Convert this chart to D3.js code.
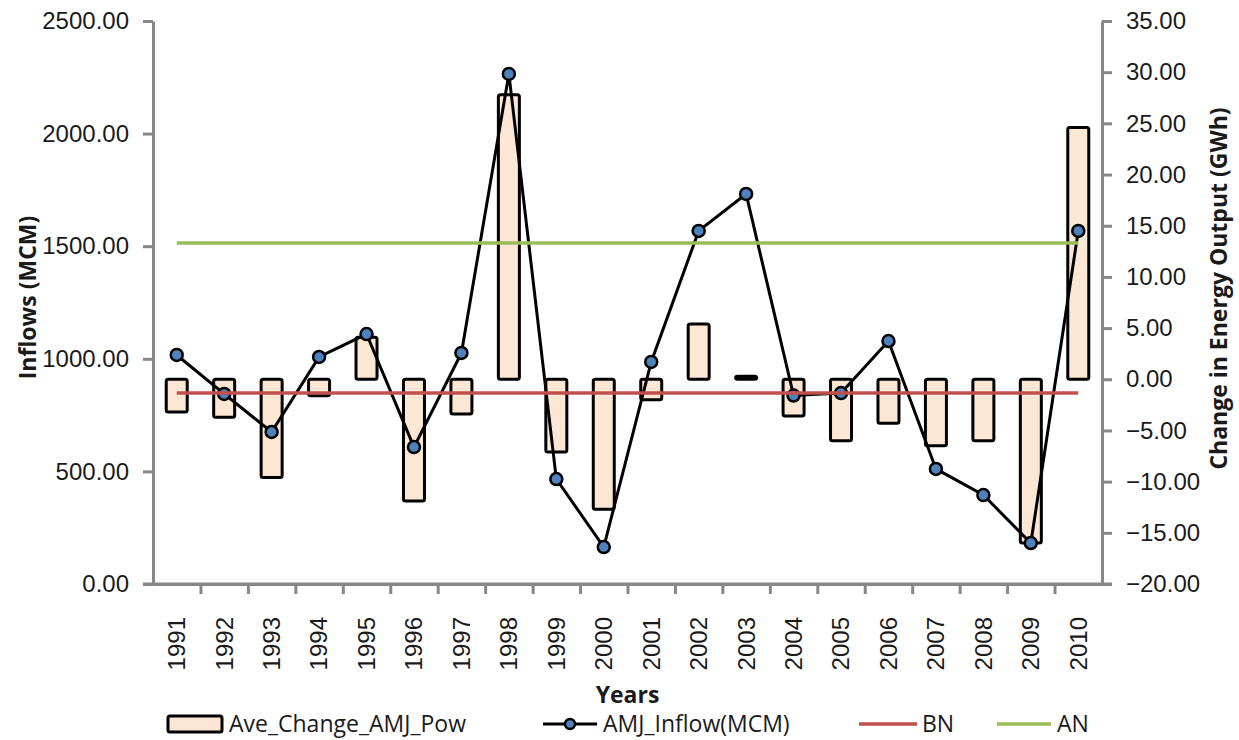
<!DOCTYPE html>
<html>
<head>
<meta charset="utf-8">
<script src="https://cdn.jsdelivr.net/npm/d3@7"></script>
<style>
  body { margin: 0; background: #fff; }
  svg { font-family: "Open Sans", sans-serif; }
  .axis path, .axis line { stroke: #878787; stroke-width: 3; }
  .axis text { fill: #1a1a1a; font-size: 24px; }
</style>
</head>
<body>
<svg id="chart" width="1239" height="740"></svg>
<script>
// Data
const years = ["1991","1992","1993","1994","1995","1996","1997","1998","1999","2000",
               "2001","2002","2003","2004","2005","2006","2007","2008","2009","2010"];
// Ave_Change_AMJ_Pow (GWh, right axis)
const powerChange = [-3.2, -3.7, -9.6, -1.6, 4.1, -11.9, -3.4, 27.8, -7.1, -12.7,
                     -2.0, 5.4, 0.3, -3.6, -6.0, -4.3, -6.5, -6.0, -16.0, 24.6];
// AMJ_Inflow(MCM) (left axis)
const inflow = [1017, 844, 675, 1008, 1110, 608, 1026, 2265, 466, 164,
                986, 1568, 1732, 837, 848, 1079, 511, 395, 182, 1568];
const bnLevel = 848;
const anLevel = 1514;
const leftTicks = [0, 500, 1000, 1500, 2000, 2500];
const rightTicks = [-20, -15, -10, -5, 0, 5, 10, 15, 20, 25, 30, 35];

const margin = {top: 21, right: 137, bottom: 156, left: 153};
const svg = d3.select('#chart');
const width = +svg.attr('width') - margin.left - margin.right;
const height = +svg.attr('height') - margin.top - margin.bottom;
const g = svg.append('g').attr('transform', `translate(${margin.left},${margin.top})`);

// Scales
const x = d3.scaleBand().domain(years).range([0, width]);
const xEdge = d3.scaleLinear().domain([0, years.length]).range([0, width]);
const yLeft = d3.scaleLinear().domain([0, 2500]).range([height, 0]);
const yRight = d3.scaleLinear().domain([-20, 35]).range([height, 0]);
const cx = d => x(d) + x.bandwidth() / 2;

// Bars (right axis)
const barW = 21;
g.selectAll('rect.bar')
  .data(years.map((d, i) => ({year: d, v: powerChange[i]})))
  .enter().append('rect')
  .attr('class', 'bar')
  .attr('x', d => cx(d.year) - barW / 2)
  .attr('y', d => yRight(Math.max(0, d.v)))
  .attr('width', barW)
  .attr('height', d => Math.abs(yRight(d.v) - yRight(0)))
  .attr('rx', 2)
  .style('fill', '#fce7d4')
  .style('stroke', '#000')
  .style('stroke-width', 3);

// Inflow line
const line = d3.line()
  .x((d, i) => cx(years[i]))
  .y(d => yLeft(d));
g.append('path')
  .datum(inflow)
  .attr('d', line)
  .style('fill', 'none')
  .style('stroke', '#000')
  .style('stroke-width', 3);
g.selectAll('circle.pt')
  .data(inflow)
  .enter().append('circle')
  .attr('class', 'pt')
  .attr('cx', (d, i) => cx(years[i]))
  .attr('cy', d => yLeft(d))
  .attr('r', 6)
  .style('fill', '#4f81bd')
  .style('stroke', '#000')
  .style('stroke-width', 2.5);

// BN / AN reference lines
const ends = [years[0], years[years.length - 1]];
[[bnLevel, '#c0504d'], [anLevel, '#9bbb59']].forEach(([lvl, col]) => {
  g.append('line')
    .attr('x1', cx(ends[0])).attr('x2', cx(ends[1]))
    .attr('y1', yLeft(lvl)).attr('y2', yLeft(lvl))
    .style('stroke', col)
    .style('stroke-width', 3.5);
});

// Axes
g.append('g').attr('class', 'axis')
  .call(d3.axisLeft(yLeft).tickValues(leftTicks).tickFormat(d3.format('.2f')).tickSize(10).tickSizeOuter(0).tickPadding(14));
g.append('g').attr('class', 'axis')
  .attr('transform', `translate(${width},0)`)
  .call(d3.axisRight(yRight).tickValues(rightTicks).tickFormat(d3.format('.2f')).tickSize(10).tickSizeOuter(0).tickPadding(14));
g.append('g').attr('class', 'axis')
  .attr('transform', `translate(0,${height})`)
  .call(d3.axisBottom(xEdge).tickValues(d3.range(1, years.length)).tickFormat('').tickSize(10).tickSizeOuter(0));
g.append('line')
  .attr('x1', -10).attr('x2', width + 10)
  .attr('y1', height).attr('y2', height)
  .style('stroke', '#878787').style('stroke-width', 3);

// Year labels
const xLab = g.append('g').attr('class', 'axis')
  .attr('transform', `translate(0,${height})`)
  .call(d3.axisBottom(x).tickSize(0).tickPadding(0));
xLab.select('.domain').remove();
xLab.selectAll('text')
  .attr('transform', 'rotate(-90)')
  .attr('x', -33).attr('y', 0).attr('dy', '0.35em')
  .style('text-anchor', 'end');

// Axis titles
svg.append('text')
  .attr('transform', `translate(36,${margin.top + height / 2 - 5}) rotate(-90)`)
  .attr('text-anchor', 'middle')
  .style('font-size', '23px').style('font-weight', 'bold').style('fill', '#1a1a1a')
  .text('Inflows (MCM)');
svg.append('text')
  .attr('transform', `translate(1227,${margin.top + height / 2 - 14}) rotate(-90)`)
  .attr('text-anchor', 'middle')
  .style('font-size', '23px').style('font-weight', 'bold').style('fill', '#1a1a1a')
  .text('Change in Energy Output (GWh)');
svg.append('text')
  .attr('x', margin.left + width / 2).attr('y', 703)
  .attr('text-anchor', 'middle')
  .style('font-size', '23px').style('font-weight', 'bold').style('fill', '#1a1a1a')
  .text('Years');

// Legend
const leg = svg.append('g').style('font-size', '23px').style('fill', '#1a1a1a');
const ly = 724;
leg.append('rect').attr('x', 168).attr('y', ly - 8).attr('width', 54).attr('height', 16)
  .attr('rx', 2).style('fill', '#fce7d4').style('stroke', '#000').style('stroke-width', 3);
leg.append('text').attr('x', 229).attr('y', ly).attr('dy', '0.35em').text('Ave_Change_AMJ_Pow');
leg.append('line').attr('x1', 543).attr('x2', 597).attr('y1', ly).attr('y2', ly)
  .style('stroke', '#000').style('stroke-width', 3);
leg.append('circle').attr('cx', 570).attr('cy', ly).attr('r', 5)
  .style('fill', '#4f81bd').style('stroke', '#000').style('stroke-width', 2.5);
leg.append('text').attr('x', 603).attr('y', ly).attr('dy', '0.35em').text('AMJ_Inflow(MCM)');
leg.append('line').attr('x1', 859).attr('x2', 917).attr('y1', ly).attr('y2', ly)
  .style('stroke', '#c0504d').style('stroke-width', 3.5);
leg.append('text').attr('x', 922).attr('y', ly).attr('dy', '0.35em').text('BN');
leg.append('line').attr('x1', 997).attr('x2', 1051).attr('y1', ly).attr('y2', ly)
  .style('stroke', '#9bbb59').style('stroke-width', 3.5);
leg.append('text').attr('x', 1057).attr('y', ly).attr('dy', '0.35em').text('AN');
</script>
</body>
</html>
